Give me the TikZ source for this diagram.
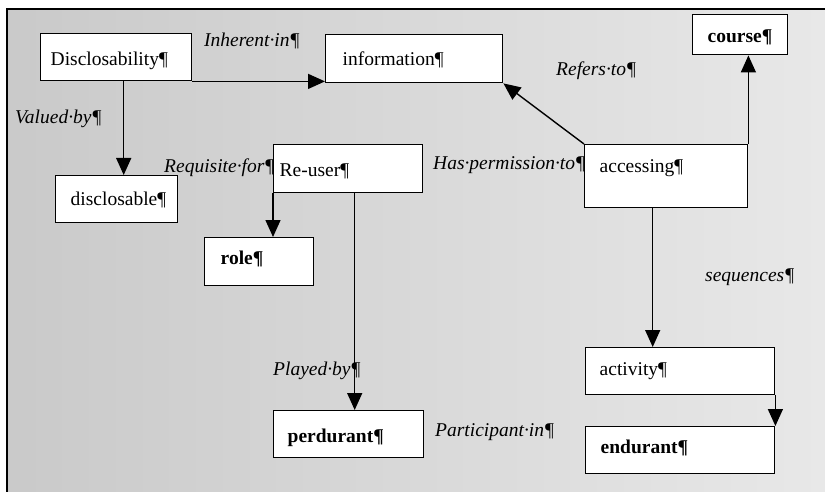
\documentclass[tikz,border=0pt]{standalone}
\usepackage{fontspec}
\setmainfont{Liberation Serif}
\usetikzlibrary{arrows.meta}
\begin{document}
\begin{tikzpicture}[x=1pt,y=-1pt,
  box/.style={draw=black, line width=1.4pt, fill=white, anchor=north west,
    align=left, inner ysep=0pt, font=\fontsize{19.5}{22}\selectfont},
  strong/.style={font=\fontsize{19.5}{22}\selectfont\bfseries},
  lab/.style={anchor=base west, inner sep=0pt, font=\fontsize{19.5}{22}\selectfont\itshape},
  conn/.style={draw=black, line width=1.4pt, -{Triangle[length=17pt,width=15pt]}},
  frame/.style={draw=black, line width=1.6pt}]
\useasboundingbox (0,0) rectangle (825,492);

% textured grey backdrop inside the frame
\shade[left color=black!21, right color=black!9] (7,9) rectangle (825,492);
\draw[frame] (7,492) -- (7,9) -- (825,9);

% concept boxes
\node[box, inner xsep=10pt, text width=131pt, minimum height=47pt,
      text height=32pt, text depth=15pt] (discl) at (40,33) {Disclosability¶};
\node[box, inner xsep=17pt, text width=143pt, minimum height=48pt,
      text height=31pt, text depth=17pt] (info) at (325,34) {information¶};
\node[box, strong, inner xsep=15pt, text width=65pt, minimum height=40pt,
      text height=28pt, text depth=12pt] (course) at (692,14) {course¶};
\node[box, inner xsep=15pt, text width=133pt, minimum height=63pt,
      text height=28pt, text depth=35pt] (acc) at (584,144) {accessing¶};
\node[box, inner xsep=6pt, text width=137pt, minimum height=48pt,
      text height=32pt, text depth=16pt] (reuser) at (273,144) {Re-user¶};
\node[box, inner xsep=15pt, text width=92pt, minimum height=47pt,
      text height=30pt, text depth=17pt] (dcl) at (55,175) {disclosable¶};
\node[box, strong, inner xsep=16pt, text width=77pt, minimum height=48pt,
      text height=27pt, text depth=21pt] (role) at (204,237) {role¶};
\node[box, strong, inner xsep=14pt, text width=122pt, minimum height=47pt,
      text height=32pt, text depth=15pt] (perd) at (273,410) {perdurant¶};
\node[box, inner xsep=14pt, text width=161pt, minimum height=47pt,
      text height=28pt, text depth=19pt] (act) at (585,347) {activity¶};
\node[box, strong, inner xsep=15pt, text width=159pt, minimum height=47pt,
      text height=27pt, text depth=20pt] (endu) at (585,426) {endurant¶};

% relations
\draw[conn] (discl.south east) -- (discl.south east -| info.west);
\draw[conn] ([xshift=7.5pt]discl.south) -- ([xshift=7.5pt]discl.south |- dcl.north);
\draw[conn] (acc.north west) -- (info.south east);
\draw[conn] (acc.north east) -- (acc.north east |- course.south);
\draw[conn] (reuser.south west) -- (reuser.south west |- role.north);
\draw[conn] ([xshift=6.5pt]reuser.south) -- ([xshift=6.5pt]reuser.south |- perd.north);
\draw[conn] ([xshift=-13.5pt]acc.south) -- ([xshift=-13.5pt]acc.south |- act.north);
\draw[conn] (act.south east) -- (act.south east |- endu.north);

% relation names
\node[lab] (lInherent) at (204,47) {Inherent·in¶};
\node[lab] (lValued) at (15,124) {Valued·by¶};
\node[lab] (lRequisite) at (164,172) {Requisite·for¶};
\node[lab] (lPermission) at (433,170) {Has·permission·to¶};
\node[lab] (lRefers) at (556,76) {Refers·to¶};
\node[lab] (lSequences) at (705,281) {sequences¶};
\node[lab] (lPlayed) at (273,375) {Played·by¶};
\node[lab] (lParticipant) at (435,436) {Participant·in¶};
\end{tikzpicture}
\end{document}
